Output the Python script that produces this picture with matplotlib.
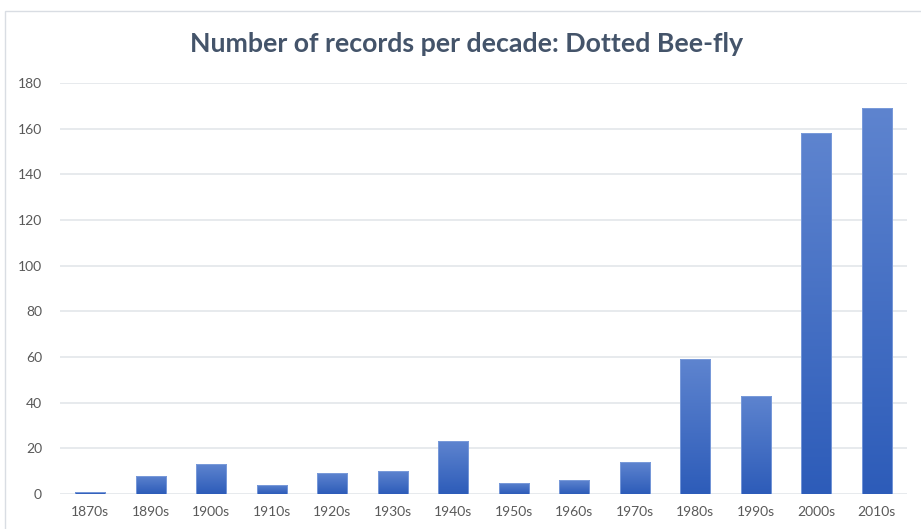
import matplotlib.pyplot as plt
import numpy as np
from matplotlib.patches import Rectangle
from matplotlib.colors import LinearSegmentedColormap

decades = ["1870s", "1890s", "1900s", "1910s", "1920s", "1930s", "1940s",
           "1950s", "1960s", "1970s", "1980s", "1990s", "2000s", "2010s"]
records = [1, 8, 13, 4, 9, 10, 23, 5, 6, 14, 59, 43, 158, 169]
yticks = [0, 20, 40, 60, 80, 100, 120, 140, 160, 180]

plt.rcParams["font.family"] = ["Lato", "DejaVu Sans"]

fig = plt.figure(figsize=(9.21, 5.29), dpi=100)
# outer chart frame (cut off on the right/bottom like the screenshot)
fig.patches.append(Rectangle((5 / 921, -0.1), 1.1, 1 - 11 / 529 + 0.1,
                             transform=fig.transFigure, fill=False,
                             edgecolor="#d9dde3", linewidth=1))

ax = fig.add_axes([60 / 921, 1 - 494 / 529, 847 / 921, 411 / 529])
x = np.arange(len(decades))
bars = ax.bar(x, records, width=0.5, color="#4472c4", zorder=2)

# vertical gradient like the Excel fill
grad = np.linspace(0, 1, 256).reshape(-1, 1)
cmap = LinearSegmentedColormap.from_list("g", ["#2d5cb9", "#5e84cf"])
for b in bars:
    bx, by, bw, bh = b.get_x(), b.get_y(), b.get_width(), b.get_height()
    im = ax.imshow(grad, extent=[bx, bx + bw, by, by + bh], origin="lower",
                   cmap=cmap, aspect="auto", zorder=3)
    im.set_clip_path(b)
    b.set_facecolor("none")
    b.set_edgecolor("#7f9fdc")
    b.set_linewidth(0.6)
    b.set_zorder(4)

ax.set_xlim(-0.5, len(decades) - 0.5)
ax.set_ylim(0, 180)
ax.set_yticks(yticks)
ax.set_xticks(x)
ax.set_xticklabels(decades)
ax.grid(axis="y", color="#e3e6ea", linewidth=1.2, zorder=0)
for s in ax.spines.values():
    s.set_visible(False)
ax.tick_params(axis="both", length=0, labelsize=10, colors="#595959")
ax.tick_params(axis="y", pad=13)
ax.tick_params(axis="x", pad=9)

fig.text(0.507, 1 - 44 / 529, "Number of records per decade: Dotted Bee-fly",
         ha="center", va="center", fontsize=19.3, fontweight="bold", color="#44546a")

fig.savefig("out.png", dpi=100, facecolor="white")
